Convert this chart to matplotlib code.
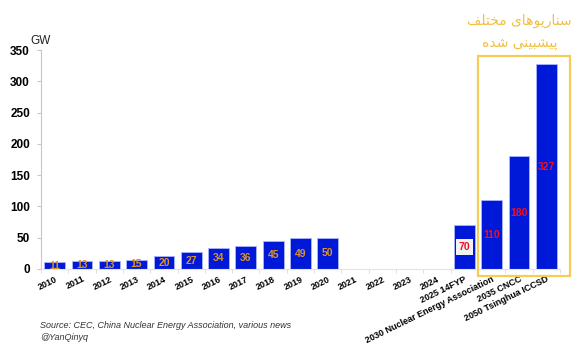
import matplotlib.pyplot as plt
from matplotlib.patches import Rectangle

years = ['2010', '2011', '2012', '2013', '2014', '2015', '2016', '2017',
         '2018', '2019', '2020', '2021', '2022', '2023', '2024',
         '2025 14FYP', '2030 Nuclear Energy Association', '2035 CNCC',
         '2050 Tsinghua ICCSD']
capacity = [11, 13, 13, 15, 20, 27, 34, 36, 45, 49, 50,
            None, None, None, None, 70, 110, 180, 327]
scenario_title = ['سناریوهای مختلف', 'پیشبینی شده']

# forms: isolated, final, initial, medial (None = joins on the right only)
FORMS = {
    'ا': ('\uFE8D', '\uFE8E', None, None),
    'ب': ('\uFE8F', '\uFE90', '\uFE91', '\uFE92'),
    'پ': ('\uFB56', '\uFB57', '\uFB58', '\uFB59'),
    'ت': ('\uFE95', '\uFE96', '\uFE97', '\uFE98'),
    'خ': ('\uFEA5', '\uFEA6', '\uFEA7', '\uFEA8'),
    'د': ('\uFEA9', '\uFEAA', None, None),
    'ر': ('\uFEAD', '\uFEAE', None, None),
    'س': ('\uFEB1', '\uFEB2', '\uFEB3', '\uFEB4'),
    'ش': ('\uFEB5', '\uFEB6', '\uFEB7', '\uFEB8'),
    'ف': ('\uFED1', '\uFED2', '\uFED3', '\uFED4'),
    'ل': ('\uFEDD', '\uFEDE', '\uFEDF', '\uFEE0'),
    'م': ('\uFEE1', '\uFEE2', '\uFEE3', '\uFEE4'),
    'ن': ('\uFEE5', '\uFEE6', '\uFEE7', '\uFEE8'),
    'ه': ('\uFEE9', '\uFEEA', '\uFEEB', '\uFEEC'),
    'و': ('\uFEED', '\uFEEE', None, None),
    'ی': ('\uFBFC', '\uFBFD', '\uFBFE', '\uFBFF'),
}


def shape_persian(text):
    """matplotlib has no text shaping, so pick contextual forms by hand"""
    out = []
    for i, ch in enumerate(text):
        if ch not in FORMS:
            out.append(ch)
            continue
        prev = text[i - 1] if i > 0 else ' '
        nxt = text[i + 1] if i < len(text) - 1 else ' '
        join_prev = prev in FORMS and FORMS[prev][2] is not None
        join_next = nxt in FORMS and FORMS[ch][2] is not None
        iso, fin, ini, med = FORMS[ch]
        if join_prev and join_next:
            out.append(med)
        elif join_prev:
            out.append(fin)
        elif join_next:
            out.append(ini)
        else:
            out.append(iso)
    return ''.join(reversed(out))


plt.rcParams['font.family'] = ['Liberation Sans', 'DejaVu Sans']

fig = plt.figure(figsize=(5.82, 3.55), dpi=100)
ax = fig.add_axes([0.0705, 0.2423, 0.8915, 0.6167])

x = list(range(len(years)))
heights = [v if v is not None else 0 for v in capacity]
ax.bar(x, heights, width=0.76, color='#0019d8', edgecolor='#a9b6ff',
       linewidth=0.6, zorder=2)

for i, v in enumerate(capacity):
    if v is None:
        continue
    if i <= 10:
        ax.text(i, v / 2, str(v), ha='center', va='center', fontsize=7.5,
                fontweight='bold', color='#da922c')
    elif i == 15:
        ax.text(i, v / 2, str(v), ha='center', va='center', fontsize=7.5,
                fontweight='bold', color='#f01020',
                bbox=dict(boxstyle='square,pad=0.25', fc='#f2f2f2', ec='none'))
    else:
        ax.text(i, v / 2, str(v), ha='center', va='center', fontsize=7.5,
                fontweight='bold', color='#f01020')

ax.set_xlim(-0.5, len(years) - 0.5)
ax.set_ylim(0, 350)
ax.set_yticks(range(0, 351, 50))
ax.set_xticks(x)
ax.set_xticklabels(years, rotation=26, ha='right', rotation_mode='anchor',
                   fontsize=6.5, fontweight='bold')
ax.set_xticks([i - 0.5 for i in range(len(years) + 1)], minor=True)
ax.tick_params(axis='x', which='major', length=0, pad=4)
ax.tick_params(axis='x', which='minor', length=3, color='#d9d9d9')
ax.tick_params(axis='y', length=3, color='#c8c8c8', labelsize=8.5, pad=5)
for lab in ax.get_yticklabels():
    lab.set_fontweight('bold')

for side in ['top', 'right']:
    ax.spines[side].set_visible(False)
ax.spines['left'].set_color('#c8c8c8')
ax.spines['bottom'].set_color('#e3e3e3')

fig.text(0.052, 0.875, 'GW', fontsize=8.5, color='#222222')
fig.text(0.069, 0.075, 'Source: CEC, China Nuclear Energy Association, various news',
         fontsize=6.5, style='italic', color='#333333')
fig.text(0.069, 0.043, '@YanQinyq', fontsize=6.5, style='italic', color='#333333')

# scenario highlight box
fig.patches.append(Rectangle((0.822, 0.2225), 0.157, 0.62, transform=fig.transFigure,
                             fill=False, edgecolor='#f5cc55', linewidth=1.6))
fig.text(0.893, 0.942, shape_persian(scenario_title[0]), ha='center', va='center',
         fontsize=10, color='#f0c040', family='DejaVu Sans')
fig.text(0.893, 0.880, shape_persian(scenario_title[1]), ha='center', va='center',
         fontsize=10, color='#f0c040', family='DejaVu Sans')

fig.savefig('out.png', dpi=100)
